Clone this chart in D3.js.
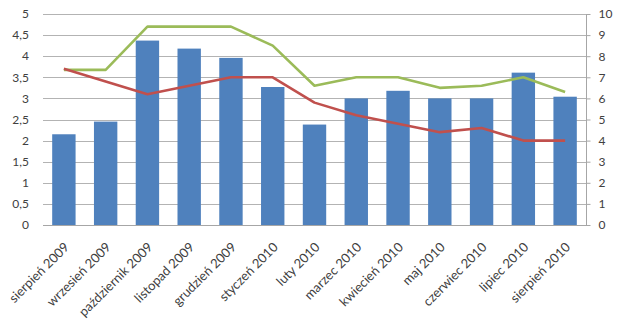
<!DOCTYPE html>
<html>
<head>
<meta charset="utf-8">
<script src="https://cdn.jsdelivr.net/npm/d3@7"></script>
<style>
  html, body { margin: 0; padding: 0; background: #fff; }
  svg text { font-family: Lato, "Open Sans", sans-serif; fill: #404040; }
</style>
</head>
<body>
<svg id="chart" width="624" height="329"></svg>
<script>
// Monthly categories
const months = [
  "sierpień 2009", "wrzesień 2009", "październik 2009", "listopad 2009",
  "grudzień 2009", "styczeń 2010", "luty 2010", "marzec 2010",
  "kwiecień 2010", "maj 2010", "czerwiec 2010", "lipiec 2010", "sierpień 2010"
];
// Bars (left axis)
const barValues = [2.15, 2.45, 4.37, 4.18, 3.96, 3.27, 2.38, 3.0, 3.18, 3.0, 3.0, 3.61, 3.04];
// Lines (right axis)
const redValues = [7.4, 6.8, 6.2, 6.6, 7.0, 7.0, 5.8, 5.2, 4.8, 4.4, 4.6, 4.0, 4.0];
const greenValues = [7.35, 7.35, 9.4, 9.4, 9.4, 8.5, 6.6, 7.0, 7.0, 6.5, 6.6, 7.0, 6.3];
// Tick values
const leftTicks = [0, 0.5, 1, 1.5, 2, 2.5, 3, 3.5, 4, 4.5, 5];
const rightTicks = [0, 1, 2, 3, 4, 5, 6, 7, 8, 9, 10];

const svg = d3.select("#chart");
const plot = { left: 43, right: 586, top: 14, bottom: 225 };

const x = d3.scaleBand().domain(months).range([plot.left, plot.right]).paddingInner(0.44).paddingOuter(0.22);
const yL = d3.scaleLinear().domain([0, 5]).range([plot.bottom, plot.top]);
const yR = d3.scaleLinear().domain([0, 10]).range([plot.bottom, plot.top]);
const fmt = d => String(d).replace(".", ",");

// Horizontal gridlines
svg.append("g").selectAll("line").data(leftTicks).join("line")
  .attr("x1", plot.left).attr("x2", plot.right)
  .attr("y1", d => Math.round(yL(d)) + 0.5).attr("y2", d => Math.round(yL(d)) + 0.5)
  .attr("stroke", "#b3b3b3").attr("stroke-width", 1);

// Left axis labels
svg.append("g").selectAll("text").data(leftTicks).join("text")
  .attr("x", 29).attr("y", d => yL(d)).attr("dy", "0.35em")
  .attr("text-anchor", "end").attr("font-size", 12)
  .text(fmt);

// Right axis
const right = svg.append("g").attr("transform", `translate(${plot.right + 0.5},0)`)
  .call(d3.axisRight(yR).tickValues(rightTicks).tickSize(4).tickPadding(8).tickFormat(fmt));
right.select(".domain").attr("stroke", "#a6a6a6").attr("d", `M0,${plot.top}V${plot.bottom}`);
right.selectAll(".tick line").attr("stroke", "#a6a6a6");
right.selectAll(".tick text").attr("font-size", 12).attr("fill", "#404040")
  .attr("font-family", "Lato, 'Open Sans', sans-serif");

// Bars
svg.append("g").selectAll("rect").data(barValues).join("rect")
  .attr("x", (d, i) => x(months[i])).attr("width", x.bandwidth())
  .attr("y", d => yL(d)).attr("height", d => yL(0) - yL(d))
  .attr("fill", "#4f81bd");

// Category axis line
svg.append("line")
  .attr("x1", plot.left).attr("x2", plot.right + 4)
  .attr("y1", plot.bottom + 0.5).attr("y2", plot.bottom + 0.5)
  .attr("stroke", "#a6a6a6");

// Lines on the right axis
const line = vals => d3.line()
  .x((d, i) => x(months[i]) + x.bandwidth() / 2)
  .y(d => yR(d))(vals);
svg.append("path").attr("d", line(greenValues))
  .attr("fill", "none").attr("stroke", "#9bbb59").attr("stroke-width", 2.6).attr("stroke-linejoin", "round");
svg.append("path").attr("d", line(redValues))
  .attr("fill", "none").attr("stroke", "#c0504d").attr("stroke-width", 2.6).attr("stroke-linejoin", "round");

// Rotated category labels
svg.append("g").selectAll("text").data(months).join("text")
  .attr("transform", d => `translate(${x(d) + x.bandwidth() / 2 + 6},${plot.bottom + 23}) rotate(-45)`)
  .attr("text-anchor", "end").attr("font-size", 13)
  .text(d => d);
</script>
</body>
</html>
